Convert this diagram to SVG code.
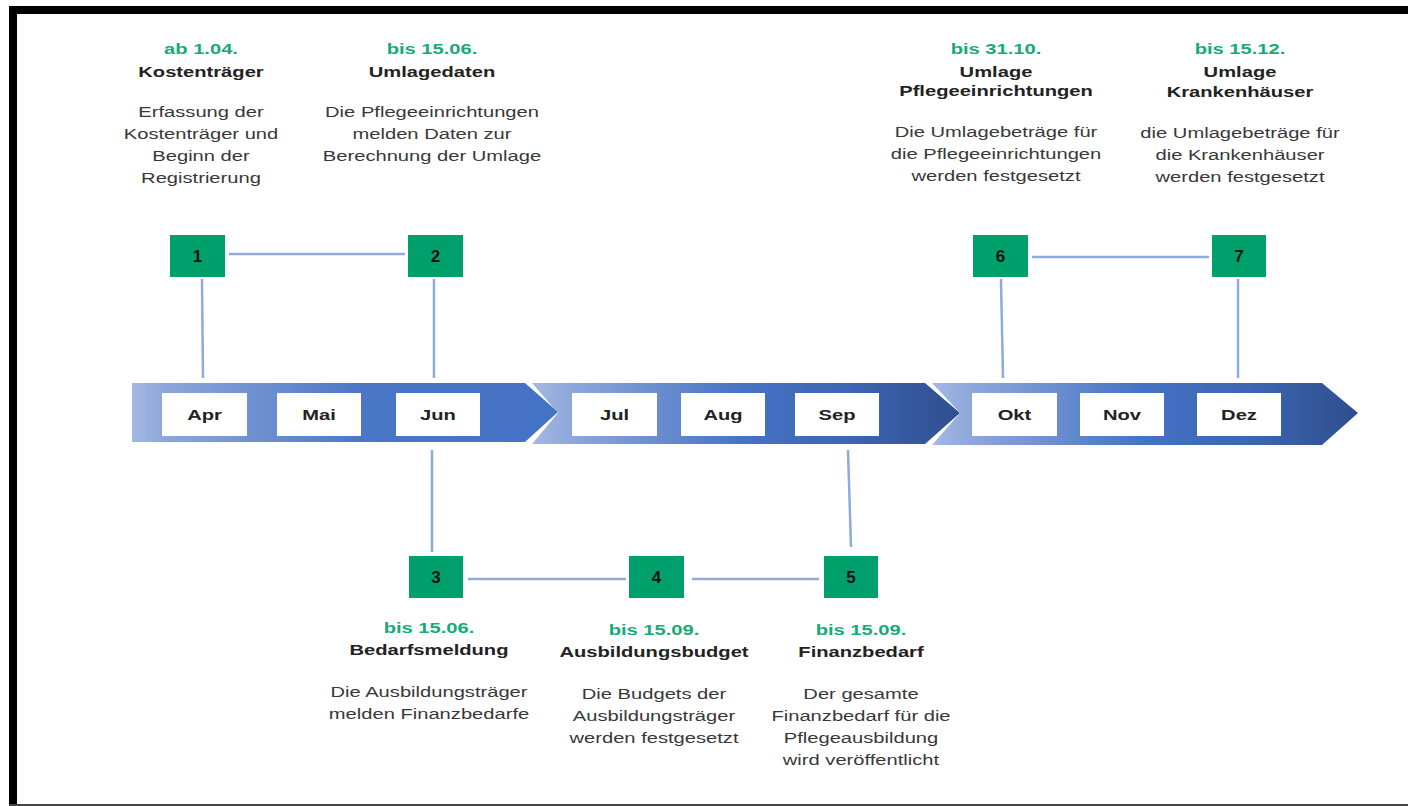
<svg xmlns="http://www.w3.org/2000/svg" width="1408" height="806" viewBox="0 0 1408 806">
<style>
.date{font-family:"Liberation Sans",Arial,sans-serif;font-weight:bold;font-size:15.5px;fill:#17AA76;text-anchor:middle}
.title{font-family:"Liberation Sans",Arial,sans-serif;font-weight:bold;font-size:15.5px;fill:#222;text-anchor:middle}
.desc{font-family:"Liberation Sans",Arial,sans-serif;font-size:15.5px;fill:#383838;text-anchor:middle}
.month{font-family:"Liberation Sans",Arial,sans-serif;font-weight:bold;font-size:15.5px;fill:#222;text-anchor:middle}
.num{font-family:"Liberation Sans",Arial,sans-serif;font-weight:bold;font-size:17px;fill:#111;text-anchor:middle}
.box{fill:#00A06C}
.mbox{fill:#fff}
.conn{stroke:#8FAADC;stroke-width:2.5;fill:none}
</style>
<defs>
<linearGradient id="g1" x1="0" y1="0" x2="1" y2="0">
<stop offset="0" stop-color="#A4B8E2"/>
<stop offset="0.08" stop-color="#8CA6DA"/>
<stop offset="0.55" stop-color="#4A76C6"/>
<stop offset="1" stop-color="#4472C4"/>
</linearGradient>
<linearGradient id="g2" x1="0" y1="0" x2="1" y2="0">
<stop offset="0" stop-color="#A4B8E2"/>
<stop offset="0.1" stop-color="#8CA6DA"/>
<stop offset="0.5" stop-color="#4472C4"/>
<stop offset="0.75" stop-color="#3D65B2"/>
<stop offset="1" stop-color="#2E4F8E"/>
</linearGradient>
</defs>
<rect width="1408" height="806" fill="#fff"/>
<g id="frame">
<rect x="9" y="6" width="1399" height="8" fill="#000"/>
<rect x="9" y="6" width="8" height="800" fill="#000"/>
<rect x="9" y="804" width="1399" height="2" fill="#444"/>
</g>
<g id="timeline">
<polygon points="132,383 525,383 558,412 525,442 132,442" fill="url(#g1)"/>
<polygon points="532,383 925,383 960,413 925,444 532,444 558,413" fill="url(#g2)"/>
<polygon points="932,383 1322,383 1358,413 1322,445 932,445 960,413" fill="url(#g2)"/>
</g>
<g id="months">
<rect class="mbox" x="162" y="393" width="85" height="43"/><text class="month" transform="translate(204.5,420) scale(1.3,1)">Apr</text>
<rect class="mbox" x="277" y="393" width="84" height="43"/><text class="month" transform="translate(319,420) scale(1.3,1)">Mai</text>
<rect class="mbox" x="396" y="393" width="84" height="43"/><text class="month" transform="translate(438,420) scale(1.3,1)">Jun</text>
<rect class="mbox" x="572" y="393" width="85" height="43"/><text class="month" transform="translate(614.5,420) scale(1.3,1)">Jul</text>
<rect class="mbox" x="681" y="393" width="84" height="43"/><text class="month" transform="translate(723,420) scale(1.3,1)">Aug</text>
<rect class="mbox" x="795" y="393" width="84" height="43"/><text class="month" transform="translate(837,420) scale(1.3,1)">Sep</text>
<rect class="mbox" x="972" y="393" width="85" height="43"/><text class="month" transform="translate(1014.5,420) scale(1.3,1)">Okt</text>
<rect class="mbox" x="1080" y="393" width="84" height="43"/><text class="month" transform="translate(1122,420) scale(1.3,1)">Nov</text>
<rect class="mbox" x="1197" y="393" width="84" height="43"/><text class="month" transform="translate(1239,420) scale(1.3,1)">Dez</text>
</g>
<g id="connectors">
<line class="conn" x1="229" y1="254" x2="405" y2="254"/>
<line class="conn" x1="202" y1="279" x2="203" y2="378"/>
<line class="conn" x1="434" y1="279" x2="434" y2="378"/>
<line class="conn" x1="432" y1="450" x2="432" y2="552"/>
<line class="conn" x1="848" y1="450" x2="851" y2="547"/>
<line class="conn" x1="468" y1="579" x2="626" y2="579"/>
<line class="conn" x1="692" y1="579" x2="819" y2="579"/>
<line class="conn" x1="1032" y1="257" x2="1209" y2="257"/>
<line class="conn" x1="1001" y1="279" x2="1003" y2="378"/>
<line class="conn" x1="1238" y1="279" x2="1238" y2="378"/>
</g>
<g id="node1">
<rect class="box" x="170" y="235" width="55" height="42"/>
<text class="num" x="197.5" y="262">1</text>
<g transform="translate(201,0) scale(1.3,1)">
<text class="date" x="0" y="54">ab 1.04.</text>
<text class="title" x="0" y="77">Kostenträger</text>
<text class="desc" x="0" y="117">Erfassung der</text>
<text class="desc" x="0" y="139">Kostenträger und</text>
<text class="desc" x="0" y="161">Beginn der</text>
<text class="desc" x="0" y="183">Registrierung</text>
</g>
</g>
<g id="node2">
<rect class="box" x="408" y="235" width="55" height="42"/>
<text class="num" x="435.5" y="262">2</text>
<g transform="translate(432,0) scale(1.3,1)">
<text class="date" x="0" y="54">bis 15.06.</text>
<text class="title" x="0" y="77">Umlagedaten</text>
<text class="desc" x="0" y="117">Die Pflegeeinrichtungen</text>
<text class="desc" x="0" y="139">melden Daten zur</text>
<text class="desc" x="0" y="161">Berechnung der Umlage</text>
</g>
</g>
<g id="node3">
<rect class="box" x="409" y="556" width="54" height="42"/>
<text class="num" x="436" y="583">3</text>
<g transform="translate(429,0) scale(1.3,1)">
<text class="date" x="0" y="633">bis 15.06.</text>
<text class="title" x="0" y="655">Bedarfsmeldung</text>
<text class="desc" x="0" y="697">Die Ausbildungsträger</text>
<text class="desc" x="0" y="719">melden Finanzbedarfe</text>
</g>
</g>
<g id="node4">
<rect class="box" x="629" y="556" width="55" height="42"/>
<text class="num" x="656.5" y="583">4</text>
<g transform="translate(654,0) scale(1.3,1)">
<text class="date" x="0" y="635">bis 15.09.</text>
<text class="title" x="0" y="657">Ausbildungsbudget</text>
<text class="desc" x="0" y="699">Die Budgets der</text>
<text class="desc" x="0" y="721">Ausbildungsträger</text>
<text class="desc" x="0" y="743">werden festgesetzt</text>
</g>
</g>
<g id="node5">
<rect class="box" x="824" y="556" width="54" height="42"/>
<text class="num" x="851" y="583">5</text>
<g transform="translate(861,0) scale(1.3,1)">
<text class="date" x="0" y="635">bis 15.09.</text>
<text class="title" x="0" y="657">Finanzbedarf</text>
<text class="desc" x="0" y="699">Der gesamte</text>
<text class="desc" x="0" y="721">Finanzbedarf für die</text>
<text class="desc" x="0" y="743">Pflegeausbildung</text>
<text class="desc" x="0" y="765">wird veröffentlicht</text>
</g>
</g>
<g id="node6">
<rect class="box" x="973" y="235" width="55" height="42"/>
<text class="num" x="1000.5" y="262">6</text>
<g transform="translate(996,0) scale(1.3,1)">
<text class="date" x="0" y="54">bis 31.10.</text>
<text class="title" x="0" y="77">Umlage</text>
<text class="title" x="0" y="96">Pflegeeinrichtungen</text>
<text class="desc" x="0" y="137">Die Umlagebeträge für</text>
<text class="desc" x="0" y="159">die Pflegeeinrichtungen</text>
<text class="desc" x="0" y="181">werden festgesetzt</text>
</g>
</g>
<g id="node7">
<rect class="box" x="1212" y="235" width="54" height="42"/>
<text class="num" x="1239" y="262">7</text>
<g transform="translate(1240,0) scale(1.3,1)">
<text class="date" x="0" y="54">bis 15.12.</text>
<text class="title" x="0" y="77">Umlage</text>
<text class="title" x="0" y="97">Krankenhäuser</text>
<text class="desc" x="0" y="138">die Umlagebeträge für</text>
<text class="desc" x="0" y="160">die Krankenhäuser</text>
<text class="desc" x="0" y="182">werden festgesetzt</text>
</g>
</g>
</svg>
